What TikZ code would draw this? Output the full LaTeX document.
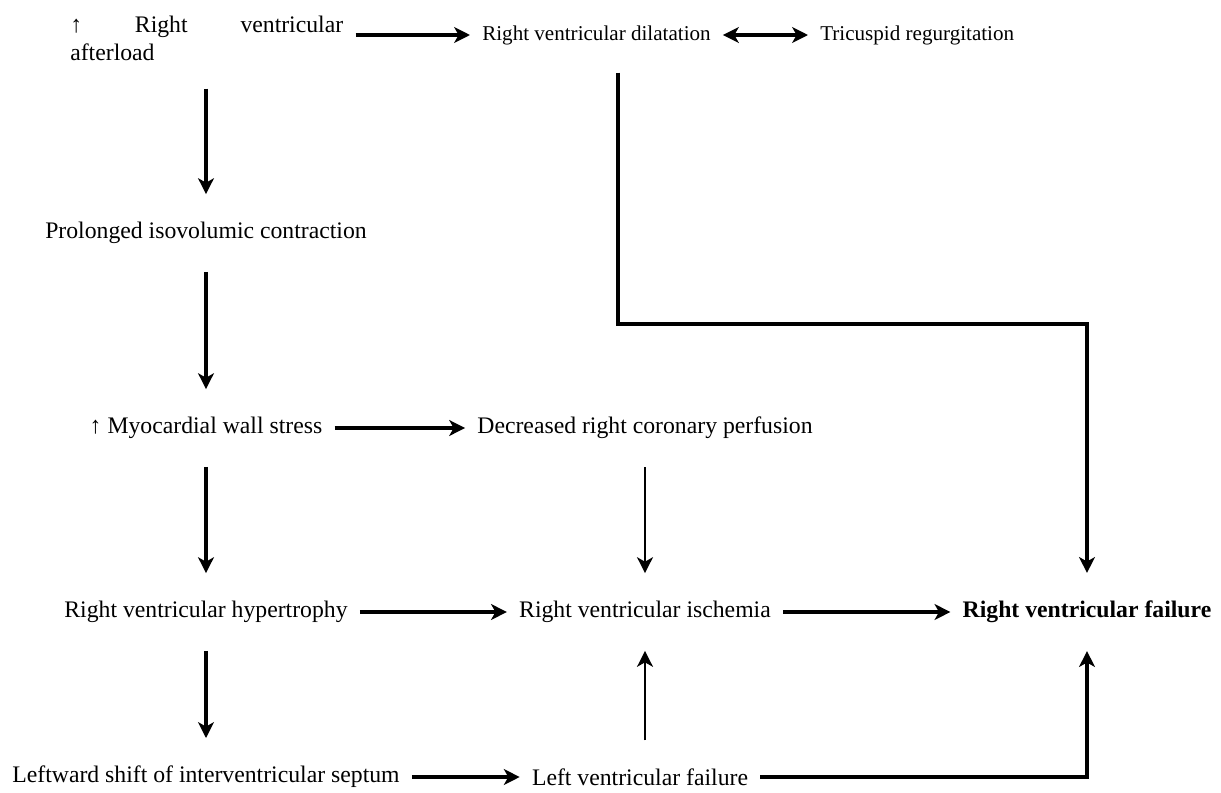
\documentclass[tikz,border=0pt]{standalone}
\usepackage{fontspec}
\setmainfont{Liberation Serif}
\usetikzlibrary{arrows.meta}

\begin{document}
\begin{tikzpicture}[x=0.02cm,y=-0.02cm,
  lbl/.style={font=\fontsize{13.5}{16}\selectfont,inner sep=0pt,outer xsep=7pt,outer ysep=16pt},
  toplbl/.style={lbl,font=\fontsize{12}{14}\selectfont},
  arr/.style={line width=2pt,-{Stealth[length=9pt,width=9pt,inset=2.5pt]}},
  thinarr/.style={arr,line width=1.6pt}]
            \useasboundingbox (0,0) rectangle (1221,792);
            \node[lbl,anchor=west,text width=5.46cm,align=left] at (58,38) (aft) {↑\hfill Right\hfill ventricular\\afterload};
            \node[toplbl,anchor=west] at (470,35) (dil) {Right ventricular dilatation};
            \node[toplbl,anchor=west] at (808,35) (tri) {Tricuspid regurgitation};
            \node[lbl] at (206,233) (pro) {Prolonged isovolumic contraction};
            \node[lbl] at (206,428) (myo) {↑ Myocardial wall stress};
            \node[lbl] at (645,428) (dec) {Decreased right coronary perfusion};
            \node[lbl] at (206,612) (hyp) {Right ventricular hypertrophy};
            \node[lbl] at (645,612) (isc) {Right ventricular ischemia};
            \node[lbl,font=\fontsize{13.5}{16}\selectfont\bfseries] at (1087,612) (rvf) {Right ventricular failure};
            \node[lbl] at (206,777) (sep) {Leftward shift of interventricular septum};
            \node[lbl] at (640,777) (lvf) {Left ventricular failure};
            \coordinate (elb) at (618,324);
            \draw[arr] (aft.east |- dil) -- (dil.west);
            \draw[arr,{Stealth[length=9pt,width=9pt,inset=2.5pt]}-{Stealth[length=9pt,width=9pt,inset=2.5pt]}] (dil) -- (tri);
            \draw[arr] (aft.south -| pro) -- (pro);
            \draw[arr] (pro) -- (myo);
            \draw[arr] (myo) -- (dec);
            \draw[arr] (myo) -- (hyp);
            \draw[thinarr] (dec) -- (isc);
            \draw[arr] (hyp) -- (isc);
            \draw[arr] (isc) -- (rvf);
            \draw[arr] (hyp) -- (sep);
            \draw[arr] (sep) -- (lvf);
            \draw[thinarr] (lvf.north -| isc) -- (isc);
            \draw[arr,line width=2.3pt] (lvf) -| (rvf.south);
            \draw[arr,line width=2.3pt] (dil.south -| elb) -- (elb) -| (rvf.north);
          \end{tikzpicture}
\end{document}
